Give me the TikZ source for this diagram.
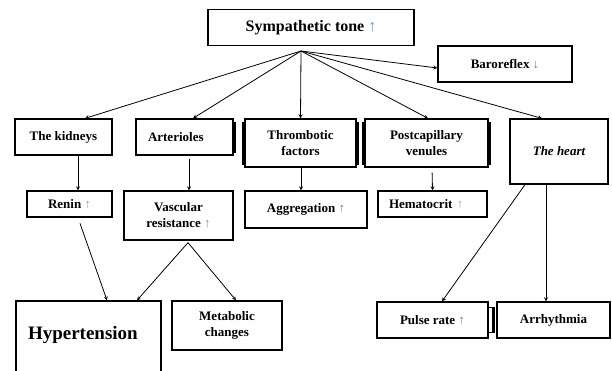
\documentclass[tikz,border=0pt]{standalone}
\usepackage{fontspec}
\setmainfont{Liberation Serif}

\definecolor{tonecol}{RGB}{95,150,200}
\definecolor{barocol}{RGB}{80,130,180}
\definecolor{renincol}{RGB}{225,150,70}
\definecolor{vasccol}{RGB}{90,165,195}
\definecolor{aggrcol}{RGB}{195,105,75}
\definecolor{hemacol}{RGB}{150,175,170}
\definecolor{pulsecol}{RGB}{200,95,85}

\tikzset{
  box/.style = {draw, rectangle, line width = 1.3pt, align = center,
  inner sep = 0pt, font = \fontsize{13}{16}\selectfont\bfseries},
  ridge/.style = {line width = 2pt},
  link/.style = {line width = 0.8pt, -stealth}
}

\begin{document}
\begin{tikzpicture}[x = 1pt, y = -1pt]
  \useasboundingbox (0, 0) rectangle (612, 370);

  \node[box, minimum width = 206pt, minimum height = 36pt,
  font = \fontsize{16}{18}\selectfont\bfseries] (symp) at (311, 27.5)
  {Sympathetic tone {\color{tonecol}↑}};
  \node[box, minimum width = 134pt, minimum height = 36pt] (baro) at (505, 64)
  {Baroreflex {\color{barocol}↓}};

  \node[box, minimum width = 97pt, minimum height = 36pt] (kid) at (63.5, 137)
  {The kidneys};
  \node[box, minimum width = 97pt, minimum height = 36pt, text width = 73pt,
  align = left] (art) at (184.5, 137) {Arterioles};
  \node[box, minimum width = 111pt, minimum height = 48pt] (thr) at (300.5, 143)
  {Thrombotic\\factors};
  \node[box, minimum width = 123pt, minimum height = 48pt] (post) at (426.5, 143)
  {Postcapillary\\venules};
  \node[box, minimum width = 98pt, minimum height = 65pt,
  font = \fontsize{13}{16}\selectfont\bfseries\itshape] (heart) at (559, 151.5)
  {The heart};

  \node[box, minimum width = 85pt, minimum height = 26pt] (renin) at (69.5, 204)
  {Renin {\color{renincol}↑}};
  \node[box, minimum width = 109pt, minimum height = 49pt] (vasc) at (178.5, 215.5)
  {Vascular\\resistance {\color{vasccol}↑}};
  \node[box, minimum width = 122pt, minimum height = 37pt] (aggr) at (306, 209.5)
  {Aggregation {\color{aggrcol}↑}};
  \node[box, minimum width = 109pt, minimum height = 26pt, text width = 87pt,
  align = left] (hema) at (432.5, 204) {Hematocrit {\color{hemacol}↑}};

  \node[box, minimum width = 145pt, minimum height = 75pt, text width = 121pt,
  align = left, text depth = 12pt, font = \fontsize{19}{22}\selectfont\bfseries]
  (hyper) at (88.5, 338.5) {Hypertension};
  \node[box, minimum width = 110pt, minimum height = 49pt] (meta) at (227, 325.5)
  {Metabolic\\changes};
  \node[box, minimum width = 111pt, minimum height = 36pt] (pulse) at (432.5, 320)
  {Pulse rate {\color{pulsecol}↑}};
  \node[box, minimum width = 113pt, minimum height = 36pt] (arr) at (553.5, 320)
  {Arrhythmia};

  \draw[ridge] ([xshift = 1.5pt, yshift = -4pt]art.north east) --
  ([xshift = 1.5pt, yshift = 3pt]art.south east);
  \draw[ridge] ([xshift = -1.5pt, yshift = -4pt]thr.north west) --
  ([xshift = -1.5pt, yshift = 3pt]thr.south west);
  \draw[ridge] ([xshift = 1.5pt, yshift = -4pt]thr.north east) --
  ([xshift = 1.5pt, yshift = 3pt]thr.south east);
  \draw[ridge] ([xshift = -1.5pt, yshift = -4pt]post.north west) --
  ([xshift = -1.5pt, yshift = 3pt]post.south west);
  \draw[ridge] ([xshift = 1.5pt, yshift = -4pt]post.north east) --
  ([xshift = 1.5pt, yshift = 3pt]post.south east);
  \draw[line width = 0.8pt] ([yshift = -6pt]pulse.north east) rectangle
  ([xshift = 4pt, yshift = 6pt]pulse.south east);
  \draw[ridge] ([xshift = -2pt, yshift = -6pt]arr.north west) --
  ([xshift = -2pt, yshift = 6pt]arr.south west);

  \coordinate (hub) at (301, 51);
  \draw[link] (hub) -- ([xshift = 21.5pt]kid.north);
  \draw[link] (hub) -- ([xshift = 8.5pt]art.north);
  \draw[link] (hub) -- (thr.north);
  \draw[link] (hub) -- ([xshift = 1.5pt]post.north);
  \draw[link] (hub) -- ([xshift = -17pt]heart.north);
  \draw[link] (hub) -- ([yshift = -4pt]baro.west);

  \draw[link] ([xshift = 14.5pt]kid.south) -- ([xshift = 8.5pt]renin.north);
  \draw[link, shorten <= 3pt] ([xshift = 4.5pt]art.south) --
  ([xshift = 10.5pt]vasc.north);
  \draw[link] ([xshift = 0.5pt]thr.south) -- ([xshift = -5pt]aggr.north);
  \draw[link, shorten <= 5pt] ([xshift = 5.5pt]post.south) -- (hema.north);

  \draw[link, shorten <= 6pt] ([xshift = 8.5pt]renin.south) --
  ([xshift = 18.5pt]hyper.north);
  \coordinate (split) at ([xshift = 9.5pt, yshift = -2pt]vasc.south);
  \draw[link] (split) -- ([xshift = 48.5pt]hyper.north);
  \draw[link] (split) -- ([xshift = 9pt]meta.north);
  \draw[link] ([xshift = -34pt]heart.south) -- ([xshift = 9.5pt]pulse.north);
  \draw[link] ([xshift = -13pt]heart.south) -- ([xshift = -7.5pt]arr.north);
\end{tikzpicture}
\end{document}
